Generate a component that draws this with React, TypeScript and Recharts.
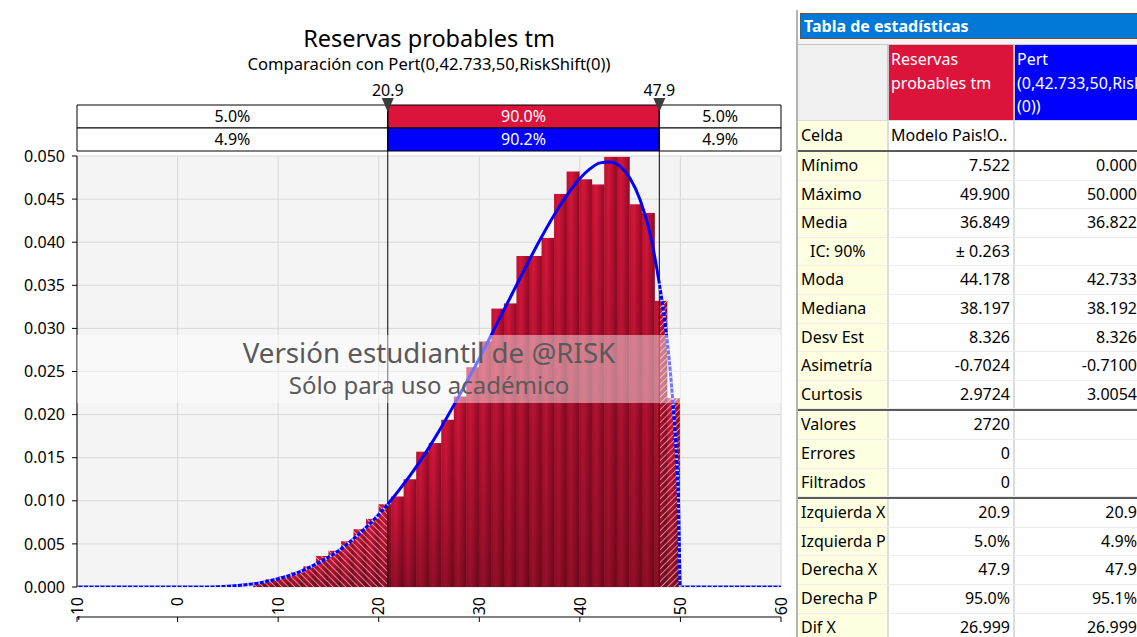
import React from 'react';
import {
  ComposedChart,
  Bar,
  Line,
  XAxis,
  YAxis,
  CartesianGrid,
  ReferenceArea,
  ReferenceLine,
  ReferenceDot,
} from 'recharts';

// ---------- histogram data (bins from min to max of the simulation) ----------
const BIN_MIN = 7.522;
const BIN_MAX = 49.9;
const BIN_VALUES = [
  0.0005, 0.0009, 0.0012, 0.0017, 0.0024, 0.0036, 0.0042, 0.0053, 0.0067, 0.0079,
  0.0096, 0.0105, 0.0125, 0.0157, 0.0167, 0.0194, 0.0221, 0.0255, 0.0285, 0.0323,
  0.0329, 0.0384, 0.0384, 0.0405, 0.0456, 0.0482, 0.0473, 0.0467, 0.0499, 0.0499,
  0.0444, 0.0434, 0.0332, 0.0219,
];

// ---------- fitted Pert curve ----------
const CURVE_X = [
  -10, 0, 2, 4, 6, 8, 10, 12, 14, 16, 18, 20, 20.9, 22, 24, 26, 28, 30, 32, 34, 36, 38,
  40, 41, 42, 43, 44, 45, 46, 47, 47.9, 48.5, 49, 49.5, 49.8, 50, 60,
];
const CURVE_D = [
  0, 0, 0.00001, 0.00004, 0.00017, 0.00045, 0.00095, 0.0017, 0.0028, 0.0042, 0.0061,
  0.0084, 0.0096, 0.0112, 0.0144, 0.0181, 0.0222, 0.0265, 0.0311, 0.0357, 0.0402,
  0.0442, 0.0474, 0.0485, 0.0492, 0.0493, 0.0488, 0.0474, 0.0449, 0.0409, 0.0352,
  0.0304, 0.0249, 0.0172, 0.0103, 0, 0,
];

// ---------- delimiters ----------
const LEFT_X = 20.9;
const RIGHT_X = 47.9;
const DELIM_LABELS = ['20.9', '47.9'];
const ROW_SIM = ['5.0%', '90.0%', '5.0%'];
const ROW_FIT = ['4.9%', '90.2%', '4.9%'];

// ---------- axes ----------
const X_TICKS = [-10, 0, 10, 20, 30, 40, 50, 60];
const Y_TICKS = [0, 0.005, 0.01, 0.015, 0.02, 0.025, 0.03, 0.035, 0.04, 0.045, 0.05];

// ---------- statistics table ----------
const STATS_MAIN_LABELS = ['Mínimo', 'Máximo', 'Media', 'IC: 90%', 'Moda', 'Mediana', 'Desv Est', 'Asimetría', 'Curtosis'];
const STATS_MAIN_SIM = ['7.522', '49.900', '36.849', '± 0.263', '44.178', '38.197', '8.326', '-0.7024', '2.9724'];
const STATS_MAIN_FIT = ['0.000', '50.000', '36.822', '', '42.733', '38.192', '8.326', '-0.7100', '3.0054'];
const STATS_COUNT_LABELS = ['Valores', 'Errores', 'Filtrados'];
const STATS_COUNT_SIM = ['2720', '0', '0'];
const STATS_COUNT_FIT = ['', '', ''];
const STATS_TAIL_LABELS = ['Izquierda X', 'Izquierda P', 'Derecha X', 'Derecha P', 'Dif X'];
const STATS_TAIL_SIM = ['20.9', '5.0%', '47.9', '95.0%', '26.999'];
const STATS_TAIL_FIT = ['20.9', '4.9%', '47.9', '95.1%', '26.999'];

// ---------- derived tables ----------
const BIN_W = (BIN_MAX - BIN_MIN) / BIN_VALUES.length;
const barData = BIN_VALUES.map((v, i) => ({
  x: BIN_MIN + (i + 0.5) * BIN_W,
  x0: BIN_MIN + i * BIN_W,
  x1: BIN_MIN + (i + 1) * BIN_W,
  v,
}));
const curveData = CURVE_X.map((x, i) => ({ x, d: CURVE_D[i] }));
const tailData = CURVE_X.map((x, i) => ({
  x,
  t: x <= LEFT_X || x >= RIGHT_X ? CURVE_D[i] : null,
}));

// header rows placed just above the plot (in y-axis units)
const PX_PER_UNIT = 431 / 0.05;
const yAbove = (px: number) => 0.05 + px / PX_PER_UNIT; // px above the top of the plot
const ROW1_TOP = yAbove(51);
const ROW1_BOT = yAbove(28);
const ROW2_BOT = yAbove(5);
const TRI_Y = yAbove(51);

const FONT = "'Noto Sans', 'Open Sans', sans-serif";

const HistBar = (props: any) => {
  const { x, y, width, height, payload } = props;
  if (!height || height <= 0 || !width) return null;
  const { x0, x1 } = payload;
  const toPx = (v: number) => x + ((v - x0) / (x1 - x0)) * width;
  const lEnd = Math.min(x + width, Math.max(x, toPx(LEFT_X)));
  const rStart = Math.max(x, Math.min(x + width, toPx(RIGHT_X)));
  return (
    <g>
      <rect x={x} y={y} width={width} height={height} fill="url(#barH)" />
      <rect x={x} y={y} width={width} height={height} fill="url(#barV)" />
      {lEnd > x && <rect x={x} y={y} width={lEnd - x} height={height} fill="url(#hatchL)" />}
      {rStart < x + width && (
        <rect x={rStart} y={y} width={x + width - rStart} height={height} fill="url(#hatchR)" />
      )}
    </g>
  );
};

const NoTick = () => null;

const XLabel = (props: any) => {
  const { cx, cy, value } = props;
  if (cx == null || cy == null) return null;
  const ty = cy + 10;
  return (
    <text
      x={cx}
      y={ty}
      transform={`rotate(-90, ${cx}, ${ty})`}
      textAnchor="end"
      dy="0.36em"
      fontSize={16}
      fill="#000"
      fontFamily={FONT}
    >
      {value}
    </text>
  );
};

const Triangle = (props: any) => {
  const { cx, cy } = props;
  return <path d={`M${cx - 6},${cy - 7} L${cx + 6},${cy - 7} L${cx},${cy + 7} Z`} fill="#3c3c3c" />;
};

const boxLabel = (value: string, fill: string) => ({
  value,
  position: 'center' as const,
  fill,
  fontSize: 16,
  fontFamily: FONT,
});

const ROW_H = 28.6;

const StatRow = ({ label, a, b, indent }: { label: string; a: string; b: string; indent?: boolean }) => (
  <div style={{ display: 'flex', height: ROW_H, boxSizing: 'border-box', borderBottom: '1px solid #ececec' }}>
    <div
      style={{
        width: 89,
        background: '#FFFFE1',
        paddingLeft: indent ? 12 : 3,
        boxSizing: 'border-box',
        lineHeight: `${ROW_H - 1}px`,
        whiteSpace: 'nowrap',
        overflow: 'hidden',
      }}
    >
      {label}
    </div>
    <div style={{ width: 2, background: '#dcdcdc' }} />
    <div
      style={{
        width: 124,
        textAlign: 'right',
        paddingRight: 3,
        boxSizing: 'border-box',
        lineHeight: `${ROW_H - 1}px`,
        whiteSpace: 'nowrap',
      }}
    >
      {a}
    </div>
    <div style={{ width: 2, background: '#dcdcdc' }} />
    <div
      style={{
        width: 125,
        textAlign: 'right',
        paddingRight: 3,
        boxSizing: 'border-box',
        lineHeight: `${ROW_H - 1}px`,
        whiteSpace: 'nowrap',
      }}
    >
      {b}
    </div>
  </div>
);

const ThickSep = () => <div style={{ height: 2, background: '#5a5a5a' }} />;

const StatsTable = () => (
  <div
    style={{
      position: 'absolute',
      left: 796,
      top: 10,
      width: 345,
      height: 640,
      borderLeft: '2px solid #b4b4b4',
      fontFamily: FONT,
      fontSize: 16,
      color: '#000',
      boxSizing: 'border-box',
      background: '#fff',
    }}
  >
    <div
      style={{
        marginLeft: 2,
        marginTop: 3,
        height: 26,
        background: '#0078D7',
        border: '1px dotted #6b4a2a',
        boxSizing: 'border-box',
        color: '#fff',
        fontWeight: 700,
        lineHeight: '24px',
        paddingLeft: 3,
        whiteSpace: 'nowrap',
      }}
    >
      Tabla de estadísticas
    </div>
    <div style={{ height: 5, background: '#f4f4f4', borderBottom: '1px solid #c8c8c8' }} />
    <div style={{ display: 'flex', height: 75 }}>
      <div style={{ width: 89, background: '#f0f0f0' }} />
      <div style={{ width: 2, background: '#c8c8c8' }} />
      <div
        style={{
          width: 124,
          background: '#DC143C',
          color: '#fff',
          paddingLeft: 2,
          paddingTop: 3,
          boxSizing: 'border-box',
          lineHeight: '23.5px',
        }}
      >
        <div>Reservas</div>
        <div>probables tm</div>
      </div>
      <div style={{ width: 2, background: '#c8c8c8' }} />
      <div
        style={{
          width: 125,
          background: '#0000FF',
          color: '#fff',
          paddingLeft: 2,
          paddingTop: 3,
          boxSizing: 'border-box',
          lineHeight: '23.5px',
          overflow: 'hidden',
          whiteSpace: 'nowrap',
        }}
      >
        <div>Pert</div>
        <div>(0,42.733,50,RiskShift</div>
        <div>(0))</div>
      </div>
    </div>
    <div style={{ display: 'flex', height: 30, borderTop: '1px solid #dcdcdc', boxSizing: 'border-box' }}>
      <div style={{ width: 89, background: '#FFFFE1', paddingLeft: 3, boxSizing: 'border-box', lineHeight: '28px' }}>
        Celda
      </div>
      <div style={{ width: 2, background: '#dcdcdc' }} />
      <div style={{ width: 124, paddingLeft: 2, boxSizing: 'border-box', lineHeight: '28px', whiteSpace: 'nowrap' }}>
        Modelo Pais!O..
      </div>
      <div style={{ width: 2, background: '#dcdcdc' }} />
      <div style={{ width: 125 }} />
    </div>
    <ThickSep />
    {STATS_MAIN_LABELS.map((l, i) => (
      <StatRow key={l} label={l} a={STATS_MAIN_SIM[i]} b={STATS_MAIN_FIT[i]} indent={l.startsWith('IC')} />
    ))}
    <ThickSep />
    {STATS_COUNT_LABELS.map((l, i) => (
      <StatRow key={l} label={l} a={STATS_COUNT_SIM[i]} b={STATS_COUNT_FIT[i]} />
    ))}
    <ThickSep />
    {STATS_TAIL_LABELS.map((l, i) => (
      <StatRow key={l} label={l} a={STATS_TAIL_SIM[i]} b={STATS_TAIL_FIT[i]} />
    ))}
  </div>
);

export default function App() {
  return (
    <div
      style={{
        position: 'absolute',
        left: 0,
        top: 0,
        width: 1137,
        height: 637,
        overflow: 'hidden',
        background: '#fff',
        fontFamily: FONT,
      }}
    >
      <div style={{ position: 'absolute', left: 0, top: 0 }}>
        <ComposedChart
          width={796}
          height={637}
          data={barData}
          margin={{ top: 156, right: 15, bottom: 5, left: 0 }}
          barCategoryGap={0}
          barGap={0}
          style={{ fontFamily: FONT }}
        >
          <defs>
            <linearGradient id="barH" x1="0" y1="0" x2="1" y2="0">
              <stop offset="0" stopColor="#bd102e" />
              <stop offset="0.35" stopColor="#d6163c" />
              <stop offset="1" stopColor="#8e0b24" />
            </linearGradient>
            <linearGradient id="barV" x1="0" y1="0" x2="0" y2="1">
              <stop offset="0" stopColor="#000" stopOpacity="0" />
              <stop offset="1" stopColor="#000" stopOpacity="0.3" />
            </linearGradient>
            <pattern id="hatchL" width="4.5" height="4.5" patternUnits="userSpaceOnUse" patternTransform="rotate(-45)">
              <line x1="0" y1="0" x2="0" y2="4.5" stroke="#ffffff" strokeWidth="1.3" strokeOpacity="0.8" />
            </pattern>
            <pattern id="hatchR" width="4.5" height="4.5" patternUnits="userSpaceOnUse" patternTransform="rotate(45)">
              <line x1="0" y1="0" x2="0" y2="4.5" stroke="#ffffff" strokeWidth="1.3" strokeOpacity="0.8" />
            </pattern>
          </defs>
          <CartesianGrid xAxisId="main" fill="#f4f4f4" stroke="#d8d8d8" strokeWidth={1} />
          <XAxis
            xAxisId="main"
            type="number"
            dataKey="x"
            domain={[-10, 60]}
            ticks={X_TICKS}
            allowDataOverflow
            height={45}
            tick={<NoTick />}
            tickSize={5}
            axisLine={{ stroke: '#000' }}
            tickLine={{ stroke: '#000' }}
            interval={0}
          />
          <XAxis xAxisId="curve" type="number" dataKey="x" domain={[-10, 60]} allowDataOverflow hide />
          <YAxis
            type="number"
            domain={[0, 0.05]}
            ticks={Y_TICKS}
            allowDataOverflow
            width={77}
            tickFormatter={(v: number) => v.toFixed(3)}
            tick={{ fontSize: 16, fill: '#000', fontFamily: FONT }}
            tickSize={5}
            tickMargin={7}
            axisLine={{ stroke: '#000' }}
            tickLine={{ stroke: '#000' }}
            interval={0}
          />
          <Bar xAxisId="main" dataKey="v" shape={<HistBar />} isAnimationActive={false} />
          <ReferenceLine
            xAxisId="main"
            segment={[{ x: LEFT_X, y: 0 }, { x: LEFT_X, y: ROW1_TOP }]}
            stroke="#000"
            strokeWidth={1}
            ifOverflow="visible"
          />
          <ReferenceLine
            xAxisId="main"
            segment={[{ x: RIGHT_X, y: 0 }, { x: RIGHT_X, y: ROW1_TOP }]}
            stroke="#000"
            strokeWidth={1}
            ifOverflow="visible"
          />
          <Line
            xAxisId="curve"
            data={curveData}
            dataKey="d"
            type="monotone"
            stroke="#0000FF"
            strokeWidth={3}
            dot={false}
            isAnimationActive={false}
          />
          <Line
            xAxisId="curve"
            data={tailData}
            dataKey="t"
            type="monotone"
            stroke="#ffffff"
            strokeOpacity={0.8}
            strokeWidth={3}
            strokeDasharray="1.5 4"
            dot={false}
            isAnimationActive={false}
          />
          {X_TICKS.map((t) => (
            <ReferenceDot
              key={`xl${t}`}
              xAxisId="main"
              x={t}
              y={0}
              r={1}
              ifOverflow="visible"
              shape={<XLabel value={t} />}
            />
          ))}
          {/* delimiter header boxes */}
          <ReferenceArea xAxisId="main" x1={-10} x2={LEFT_X} y1={ROW1_BOT} y2={ROW1_TOP} fill="#fff" fillOpacity={1} stroke="#000" strokeWidth={1} ifOverflow="visible" label={boxLabel(ROW_SIM[0], '#000')} />
          <ReferenceArea xAxisId="main" x1={LEFT_X} x2={RIGHT_X} y1={ROW1_BOT} y2={ROW1_TOP} fill="#DC143C" fillOpacity={1} stroke="#000" strokeWidth={1} ifOverflow="visible" label={boxLabel(ROW_SIM[1], '#fff')} />
          <ReferenceArea xAxisId="main" x1={RIGHT_X} x2={60} y1={ROW1_BOT} y2={ROW1_TOP} fill="#fff" fillOpacity={1} stroke="#000" strokeWidth={1} ifOverflow="visible" label={boxLabel(ROW_SIM[2], '#000')} />
          <ReferenceArea xAxisId="main" x1={-10} x2={LEFT_X} y1={ROW2_BOT} y2={ROW1_BOT} fill="#fff" fillOpacity={1} stroke="#000" strokeWidth={1} ifOverflow="visible" label={boxLabel(ROW_FIT[0], '#000')} />
          <ReferenceArea xAxisId="main" x1={LEFT_X} x2={RIGHT_X} y1={ROW2_BOT} y2={ROW1_BOT} fill="#0000FF" fillOpacity={1} stroke="#000" strokeWidth={1} ifOverflow="visible" label={boxLabel(ROW_FIT[1], '#fff')} />
          <ReferenceArea xAxisId="main" x1={RIGHT_X} x2={60} y1={ROW2_BOT} y2={ROW1_BOT} fill="#fff" fillOpacity={1} stroke="#000" strokeWidth={1} ifOverflow="visible" label={boxLabel(ROW_FIT[2], '#000')} />
          <ReferenceDot
            xAxisId="main"
            x={LEFT_X}
            y={TRI_Y}
            r={7}
            shape={<Triangle />}
            ifOverflow="visible"
            label={{ value: DELIM_LABELS[0], position: 'top', offset: 2, fontSize: 16, fill: '#000', fontFamily: FONT }}
          />
          <ReferenceDot
            xAxisId="main"
            x={RIGHT_X}
            y={TRI_Y}
            r={7}
            shape={<Triangle />}
            ifOverflow="visible"
            label={{ value: DELIM_LABELS[1], position: 'top', offset: 2, fontSize: 16, fill: '#000', fontFamily: FONT }}
          />
        </ComposedChart>
      </div>

      {/* titles */}
      <div
        style={{
          position: 'absolute',
          left: 77,
          width: 704,
          top: 22,
          height: 32,
          lineHeight: '32px',
          textAlign: 'center',
          fontSize: 23.5,
          color: '#000',
        }}
      >
        Reservas probables tm
      </div>
      <div
        style={{
          position: 'absolute',
          left: 77,
          width: 704,
          top: 52,
          height: 24,
          lineHeight: '24px',
          textAlign: 'center',
          fontSize: 16.6,
          color: '#000',
        }}
      >
        Comparación con Pert(0,42.733,50,RiskShift(0))
      </div>

      {/* watermark */}
      <div
        style={{
          position: 'absolute',
          left: 77,
          width: 704,
          top: 335,
          height: 68,
          background: 'rgba(255,255,255,0.45)',
          textAlign: 'center',
          color: '#5a5a5a',
        }}
      >
        <div style={{ fontSize: 27.7, lineHeight: '34px' }}>Versión estudiantil de @RISK</div>
        <div style={{ fontSize: 24, lineHeight: '32px' }}>Sólo para uso académico</div>
      </div>

      <StatsTable />
    </div>
  );
}
